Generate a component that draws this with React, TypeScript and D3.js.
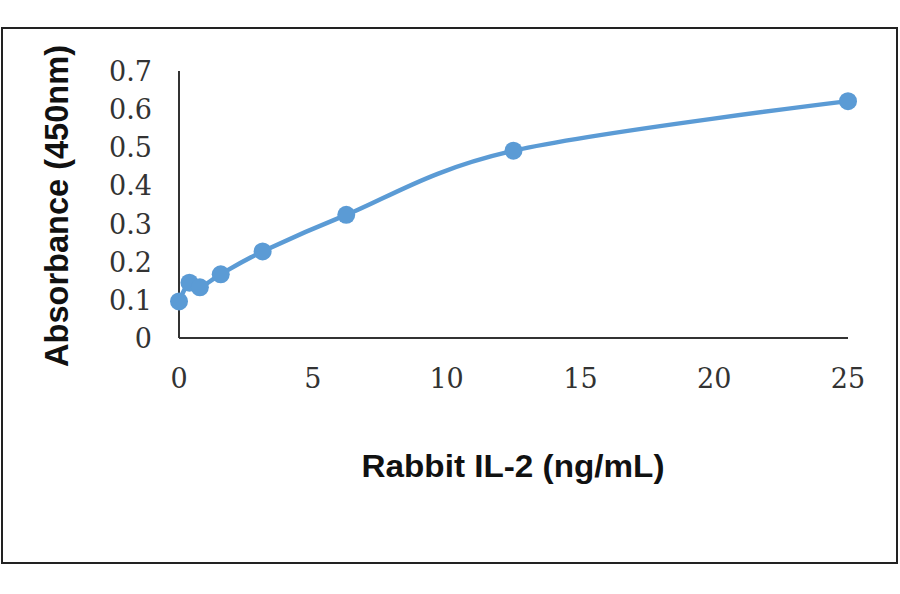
import { useRef, useEffect } from 'react'
import * as d3 from 'd3'

// Rabbit IL-2 standard curve
const concentrations = [0, 0.39, 0.78, 1.56, 3.125, 6.25, 12.5, 25]
const absorbance = [0.096, 0.145, 0.133, 0.167, 0.227, 0.323, 0.491, 0.621]
const xTicks = [0, 5, 10, 15, 20, 25]
const yTicks = [0, 0.1, 0.2, 0.3, 0.4, 0.5, 0.6, 0.7]

const BLUE = '#5B9BD5'

export default function App() {
  const svgRef = useRef<SVGSVGElement>(null)

  useEffect(() => {
    if (!svgRef.current) return
    const svg = d3.select(svgRef.current)
    svg.selectAll('*').remove()

    const width = 900
    const height = 594

    svg.attr('width', width).attr('height', height).attr('viewBox', `0 0 ${width} ${height}`)

    svg.append('rect').attr('width', width).attr('height', height).attr('fill', '#fff')

    // outer frame
    svg.append('rect')
      .attr('x', 2).attr('y', 28)
      .attr('width', 895).attr('height', 535)
      .attr('fill', 'none').attr('stroke', '#222').attr('stroke-width', 2)

    const x = d3.scaleLinear().domain([0, 25]).range([179, 848])
    const y = d3.scaleLinear().domain([0, 0.7]).range([338, 71])

    // axes lines
    svg.append('line')
      .attr('x1', x(0)).attr('x2', x(0))
      .attr('y1', y(0.7)).attr('y2', y(0))
      .attr('stroke', '#333').attr('stroke-width', 2)
    svg.append('line')
      .attr('x1', x(0)).attr('x2', x(25))
      .attr('y1', y(0)).attr('y2', y(0))
      .attr('stroke', '#333').attr('stroke-width', 2)

    // y tick labels
    svg.append('g').selectAll('text')
      .data(yTicks)
      .join('text')
      .attr('x', 152)
      .attr('y', d => y(d) + 10)
      .attr('text-anchor', 'end')
      .style('font-family', '"DejaVu Serif", serif')
      .style('font-size', '27px')
      .style('fill', '#333')
      .text(d => (d === 0 ? '0' : d.toFixed(1)))

    // x tick labels
    svg.append('g').selectAll('text')
      .data(xTicks)
      .join('text')
      .attr('x', d => x(d))
      .attr('y', 388)
      .attr('text-anchor', 'middle')
      .style('font-family', '"DejaVu Serif", serif')
      .style('font-size', '27px')
      .style('fill', '#333')
      .text(d => String(d))

    // axis titles
    svg.append('text')
      .attr('x', 513).attr('y', 477)
      .attr('text-anchor', 'middle')
      .attr('textLength', 303).attr('lengthAdjust', 'spacingAndGlyphs')
      .style('font-family', '"Liberation Sans", Arial, sans-serif')
      .style('font-weight', 'bold')
      .style('font-size', '32px')
      .style('fill', '#111')
      .text('Rabbit IL-2 (ng/mL)')

    svg.append('text')
      .attr('transform', 'translate(68,206) rotate(-90)')
      .attr('text-anchor', 'middle')
      .attr('textLength', 322).attr('lengthAdjust', 'spacingAndGlyphs')
      .style('font-family', '"Liberation Sans", Arial, sans-serif')
      .style('font-weight', 'bold')
      .style('font-size', '33px')
      .style('fill', '#111')
      .text('Absorbance (450nm)')

    // smoothed line
    const pts = concentrations.map((c, i) => [c, absorbance[i]] as [number, number])
    const line = d3.line<[number, number]>()
      .x(d => x(d[0]))
      .y(d => y(d[1]))
      .curve(d3.curveCardinal.tension(0))

    svg.append('path')
      .datum(pts)
      .attr('d', line)
      .attr('fill', 'none')
      .attr('stroke', BLUE)
      .attr('stroke-width', 4.5)
      .attr('stroke-linejoin', 'round')

    svg.append('g').selectAll('circle')
      .data(pts)
      .join('circle')
      .attr('cx', d => x(d[0]))
      .attr('cy', d => y(d[1]))
      .attr('r', 9)
      .attr('fill', BLUE)
  }, [])

  return <svg ref={svgRef} style={{ position: 'absolute', left: 0, top: 0 }} />
}
